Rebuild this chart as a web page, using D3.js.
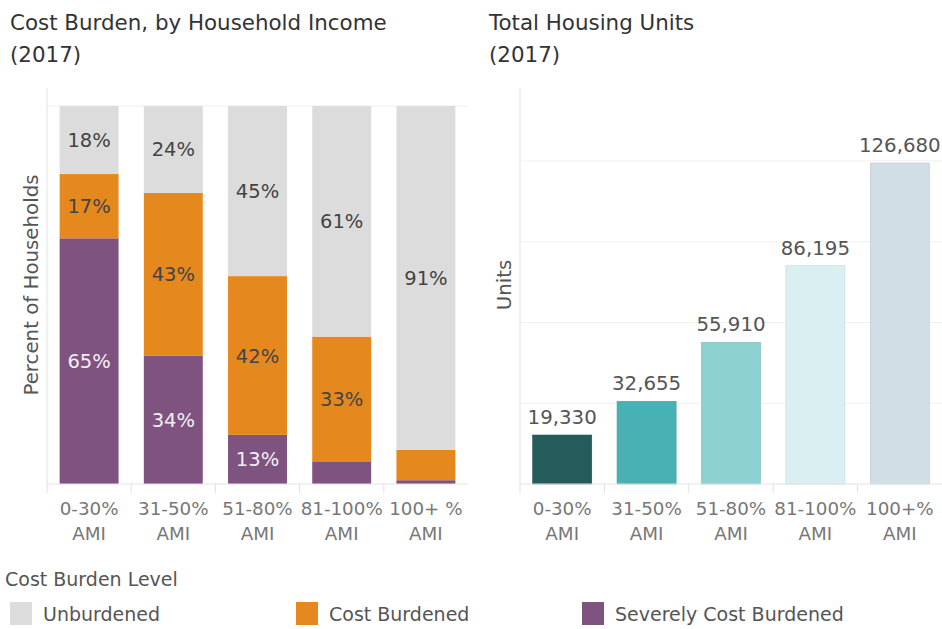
<!DOCTYPE html>
<html lang="en">
    <head>
        <meta charset="utf-8">
        <title>Cost Burden and Housing Units</title>
        <script type="text/javascript" src="https://d3js.org/d3.v7.min.js"></script>
        <style>
          body { margin: 0; background: #fff; }
          text { font-family: "DejaVu Sans", sans-serif; }
        </style>
    </head>
    <body>
        <script type="text/javascript">
            // data
            const categories = ["0-30% AMI", "31-50% AMI", "51-80% AMI", "81-100% AMI", "100+ % AMI"]
            const categories2 = ["0-30% AMI", "31-50% AMI", "51-80% AMI", "81-100% AMI", "100+% AMI"]
            const severe = [0.65, 0.34, 0.13, 0.06, 0.01]
            const burdened = [0.17, 0.43, 0.42, 0.33, 0.08]
            const unburdened = [0.18, 0.24, 0.45, 0.61, 0.91]
            const units = [19330, 32655, 55910, 86195, 126680]
            const levels = ["Unburdened", "Cost Burdened", "Severely Cost Burdened"]
            const levelColors = ["#dcdcdc", "#e5891f", "#7e5380"]
            const unitColors = ["#245c5c", "#47b1b3", "#8dd1d0", "#daeff1", "#d2dee6"]
            const unitGrid = [0, 31875, 63750, 95625, 127500]

            const w = 942
            const h = 629
            const svg = d3.select("body").append("svg").attr("width", w).attr("height", h)

            const plotTop = 106, base = 484

            // titles
            const title = (x, lines) => {
                svg.append("text").attr("x", x).attr("y", 30).attr("font-size", 21.4).attr("fill", "#333").text(lines[0])
                svg.append("text").attr("x", x).attr("y", 62).attr("font-size", 21.4).attr("fill", "#333").text(lines[1])
            }
            title(10, ["Cost Burden, by Household Income", "(2017)"])
            title(489, ["Total Housing Units", "(2017)"])

            const catLabels = (g, x, cats) => {
                cats.forEach((c, i) => {
                    const parts = c.split(" AMI")
                    const t = g.append("text").attr("text-anchor", "middle").attr("font-size", 18.3).attr("fill", "#777")
                    t.append("tspan").attr("x", x(c) + x.bandwidth() / 2).attr("y", 515).text(parts[0])
                    t.append("tspan").attr("x", x(c) + x.bandwidth() / 2).attr("y", 540).text("AMI")
                })
            }

            // ---- left chart: stacked percent bars
            const x1 = d3.scaleBand().domain(categories).range([47, 468]).paddingInner(0.3).paddingOuter(0.15)
            const y1 = d3.scaleLinear().domain([0, 1]).range([base, plotTop])
            const left = svg.append("g")

            left.selectAll("line.grid").data([1]).enter().append("line")
                .attr("x1", 47).attr("x2", 468).attr("y1", d => y1(d)).attr("y2", d => y1(d))
                .attr("stroke", "#eeeeee")

            const rows = categories.map((c, i) => ({cat: c, Unburdened: unburdened[i], "Cost Burdened": burdened[i], "Severely Cost Burdened": severe[i]}))
            const stack = d3.stack().keys(levels.slice().reverse())(rows)
            const colorOf = d3.scaleOrdinal().domain(levels).range(levelColors)

            stack.forEach(layer => {
                left.selectAll(null).data(layer).enter().append("rect")
                    .attr("x", d => x1(d.data.cat))
                    .attr("width", x1.bandwidth())
                    .attr("y", d => y1(Math.min(d[1], 1)))
                    .attr("height", d => y1(d[0]) - y1(Math.min(d[1], 1)))
                    .attr("fill", colorOf(layer.key))
                left.selectAll(null).data(layer.filter(d => d[1] - d[0] >= 0.1)).enter().append("text")
                    .attr("x", d => x1(d.data.cat) + x1.bandwidth() / 2)
                    .attr("y", d => (y1(d[0]) + y1(Math.min(d[1], 1))) / 2)
                    .attr("dy", "0.36em")
                    .attr("text-anchor", "middle")
                    .attr("font-size", 19.5)
                    .attr("fill", layer.key == "Severely Cost Burdened" ? "#f4eef4" : "#444")
                    .text(d => d3.format(".0%")(d[1] - d[0]))
            })

            left.append("line").attr("x1", 47).attr("x2", 468).attr("y1", base).attr("y2", base).attr("stroke", "#e2e2e2")
            left.append("line").attr("x1", 47).attr("x2", 47).attr("y1", 88).attr("y2", 493).attr("stroke", "#e2e2e2")
            left.selectAll("line.div").data(categories.slice(1)).enter().append("line")
                .attr("x1", d => x1(d) - x1.step() * 0.15).attr("x2", d => x1(d) - x1.step() * 0.15)
                .attr("y1", base).attr("y2", 493).attr("stroke", "#e2e2e2")
            catLabels(left, x1, categories)
            left.append("text").attr("transform", "translate(38,285) rotate(-90)")
                .attr("text-anchor", "middle").attr("font-size", 19.8).attr("fill", "#555")
                .text("Percent of Households")

            // ---- right chart: housing units
            const x2 = d3.scaleBand().domain(categories2).range([520, 942]).paddingInner(0.3).paddingOuter(0.15)
            const y2 = d3.scaleLinear().domain([0, 127500]).range([base, 161])
            const right = svg.append("g")

            right.selectAll("line.grid").data(unitGrid.slice(1)).enter().append("line")
                .attr("x1", 520).attr("x2", 942).attr("y1", d => y2(d)).attr("y2", d => y2(d))
                .attr("stroke", "#efefef")

            right.selectAll("rect").data(units).enter().append("rect")
                .attr("x", (d, i) => x2(categories2[i]))
                .attr("width", x2.bandwidth())
                .attr("y", d => y2(d))
                .attr("height", d => base - y2(d))
                .attr("fill", (d, i) => unitColors[i])
                .attr("stroke", (d, i) => d3.color(unitColors[i]).darker(0.3))
                .attr("stroke-width", 0.6)

            right.selectAll("text.val").data(units).enter().append("text")
                .attr("x", (d, i) => x2(categories2[i]) + x2.bandwidth() / 2)
                .attr("y", d => y2(d) - 11)
                .attr("text-anchor", "middle")
                .attr("font-size", 19.8)
                .attr("fill", "#555")
                .text(d => d3.format(",")(d))

            right.append("line").attr("x1", 520).attr("x2", 942).attr("y1", base).attr("y2", base).attr("stroke", "#e2e2e2")
            right.append("line").attr("x1", 520).attr("x2", 520).attr("y1", 88).attr("y2", 493).attr("stroke", "#e2e2e2")
            right.selectAll("line.div").data(categories2.slice(1)).enter().append("line")
                .attr("x1", d => x2(d) - x2.step() * 0.15).attr("x2", d => x2(d) - x2.step() * 0.15)
                .attr("y1", base).attr("y2", 493).attr("stroke", "#e2e2e2")
            catLabels(right, x2, categories2)
            right.append("text").attr("transform", "translate(511,285) rotate(-90)")
                .attr("text-anchor", "middle").attr("font-size", 19.8).attr("fill", "#555")
                .text("Units")

            // ---- legend
            svg.append("text").attr("x", 5).attr("y", 586).attr("font-size", 19).attr("fill", "#555").text("Cost Burden Level")
            const legX = [10, 296, 582]
            const leg = svg.selectAll("g.leg").data(levels).enter().append("g")
                .attr("transform", (d, i) => `translate(${legX[i]},602)`)
            leg.append("rect").attr("width", 22).attr("height", 23).attr("fill", (d, i) => levelColors[i])
            leg.append("text").attr("x", 33).attr("y", 12).attr("dy", "0.36em")
                .attr("font-size", 19).attr("fill", "#555").text(d => d)
        </script>
    </body>
</html>
